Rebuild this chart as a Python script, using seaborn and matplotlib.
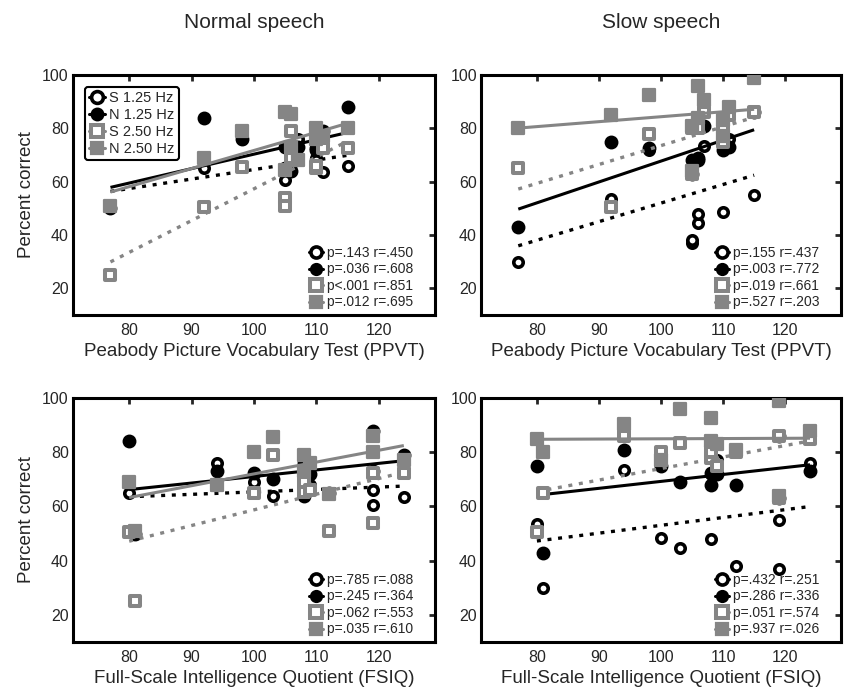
import matplotlib
matplotlib.use("Agg")
import matplotlib.pyplot as plt
from matplotlib.lines import Line2D
import seaborn as sns

# one entry per child
ppvt = [77, 92, 115, 107, 105, 111, 98, 105, 106, 106, 110, 110]
fsiq = [81, 80, 119, 94, 119, 124, 108, 112, 103, 108, 100, 109]

# percent correct, normal speech
normal_s125 = [50, 65, 66, 76, 60.5, 63.5, 76, 65, 64, 66.5, 69, 68]
normal_n125 = [50, 84, 88, 73, 73, 79, 76, 65, 70, 64, 72.5, 72]
normal_s250 = [25, 50.5, 72.5, 68, 54, 72.5, 65.5, 51, 79, 69, 65, 66]
normal_n250 = [51, 69, 80, 68, 86, 77, 79, 64.5, 85.5, 73, 80, 76]

# percent correct, slow speech
slow_s125 = [30, 53.5, 55, 73.5, 37, 76, 72, 38, 44.5, 48, 48.5, 77]
slow_n125 = [43, 75, 86, 81, 63, 73, 72.5, 68, 69, 68, 75, 72]
slow_s250 = [65, 50.5, 86, 86, 63, 85, 78, 80, 83.5, 80, 80, 75]
slow_n250 = [80, 85, 99, 90.5, 64, 88, 92.5, 81, 96, 84, 77, 83]

conditions = ["S 1.25 Hz", "N 1.25 Hz", "S 2.50 Hz", "N 2.50 Hz"]

stats_normal_ppvt = ["p=.143 r=.450", "p=.036 r=.608", "p<.001 r=.851", "p=.012 r=.695"]
stats_slow_ppvt = ["p=.155 r=.437", "p=.003 r=.772", "p=.019 r=.661", "p=.527 r=.203"]
stats_normal_fsiq = ["p=.785 r=.088", "p=.245 r=.364", "p=.062 r=.553", "p=.035 r=.610"]
stats_slow_fsiq = ["p=.432 r=.251", "p=.286 r=.336", "p=.051 r=.574", "p=.937 r=.026"]

sns.set_style("white")
plt.rcParams["font.family"] = ["Liberation Sans", "DejaVu Sans"]

GRAY = "#858585"
DOT = (0, (1.2, 2.0))
styles = [
    dict(marker="o", face="white", edge="black", lc="black", ls=DOT, s=46, mlw=2.6),
    dict(marker="o", face="black", edge="black", lc="black", ls="-", s=72, mlw=1.5),
    dict(marker="s", face="white", edge=GRAY, lc=GRAY, ls=DOT, s=50, mlw=2.9),
    dict(marker="s", face=GRAY, edge=GRAY, lc=GRAY, ls="-", s=72, mlw=1.6),
]


def handles(ms=8.5):
    out = []
    for st in styles:
        out.append(Line2D([], [], color=st["lc"], lw=2.2, ls="-",
                          marker=st["marker"], markersize=ms,
                          markerfacecolor=st["face"], markeredgecolor=st["edge"],
                          markeredgewidth=st["mlw"]))
    return out


def panel(ax, x, ys, stats, xlabel, ylabel, show_legend):
    for i, (y, st) in enumerate(zip(ys, styles)):
        sns.regplot(x=x, y=y, ax=ax, scatter=False, ci=None, truncate=True,
                    line_kws=dict(color=st["lc"], lw=2.4 if st["ls"] != "-" else 2.2,
                                  ls=st["ls"], zorder=3 + 2 * i,
                                  solid_capstyle="butt", dash_capstyle="butt"))
        sns.scatterplot(x=x, y=y, ax=ax, marker=st["marker"], s=st["s"],
                        color=st["face"], facecolor=st["face"], edgecolor=st["edge"],
                        linewidth=st["mlw"], joinstyle="round", zorder=4 + 2 * i,
                        legend=False)
    ax.set_xlim(71, 129)
    ax.set_ylim(10, 100)
    ax.set_xticks([80, 90, 100, 110, 120])
    ax.set_yticks([20, 40, 60, 80, 100])
    ax.tick_params(direction="in", top=True, right=True, length=4, width=2,
                   labelsize=11.5)
    ax.tick_params(axis="x", pad=6)
    ax.tick_params(axis="y", pad=3)
    for sp in ax.spines.values():
        sp.set_linewidth(2.2)
        sp.set_color("black")
    ax.set_xlabel(xlabel, fontsize=13.5, labelpad=3)
    if ylabel:
        ax.set_ylabel(ylabel, fontsize=13.5, labelpad=5)
    else:
        ax.set_ylabel("")
    if show_legend:
        leg1 = ax.legend(handles(), conditions, loc="upper left", fontsize=10.5,
                         handlelength=1.1, handletextpad=0.3, borderpad=0.3,
                         labelspacing=0.2, borderaxespad=0.8, fancybox=True,
                         framealpha=1, edgecolor="black")
        leg1.get_frame().set_linewidth(1.5)
        ax.add_artist(leg1)
    leg2 = ax.legend(handles(8), stats, loc="lower right", fontsize=10,
                     bbox_to_anchor=(0.955, 0.0),
                     handlelength=1.0, handletextpad=0.3, borderpad=0.2,
                     labelspacing=0.18, borderaxespad=0.2, frameon=False)
    leg2.set_zorder(20)


fig = plt.figure(figsize=(8.49, 6.91), dpi=100)
ax_tl = fig.add_axes([0.0860, 0.5441, 0.4264, 0.3474])
ax_tr = fig.add_axes([0.5666, 0.5441, 0.4240, 0.3474])
ax_bl = fig.add_axes([0.0860, 0.0709, 0.4264, 0.3531])
ax_br = fig.add_axes([0.5666, 0.0709, 0.4240, 0.3531])

normal = [normal_s125, normal_n125, normal_s250, normal_n250]
slow = [slow_s125, slow_n125, slow_s250, slow_n250]

panel(ax_tl, ppvt, normal, stats_normal_ppvt,
      "Peabody Picture Vocabulary Test (PPVT)", "Percent correct", True)
panel(ax_tr, ppvt, slow, stats_slow_ppvt,
      "Peabody Picture Vocabulary Test (PPVT)", None, False)
panel(ax_bl, fsiq, normal, stats_normal_fsiq,
      "Full-Scale Intelligence Quotient (FSIQ)", "Percent correct", False)
panel(ax_br, fsiq, slow, stats_slow_fsiq,
      "Full-Scale Intelligence Quotient (FSIQ)", None, False)

fig.text(0.299, 0.968, "Normal speech", ha="center", va="center", fontsize=15)
fig.text(0.7786, 0.968, "Slow speech", ha="center", va="center", fontsize=15)

fig.savefig("out.png", dpi=100)
